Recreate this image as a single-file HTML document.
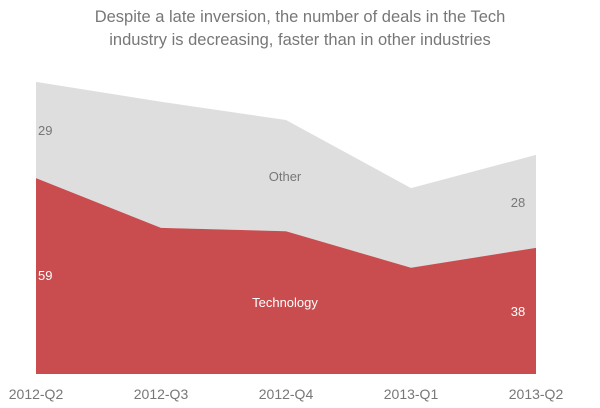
<!DOCTYPE html>
<html><head><meta charset="utf-8"><style>
body{margin:0;background:#fff;}
svg{display:block;font-family:"Liberation Sans",sans-serif;}
</style></head><body>
<svg id="chart" width="600" height="408">
<text x="300" y="22" text-anchor="middle" font-size="16.5" fill="#777">Despite a late inversion, the number of deals in the Tech</text>
<text x="300" y="45" text-anchor="middle" font-size="16.5" fill="#777">industry is decreasing, faster than in other industries</text>
<g id="areas"></g>
<g id="labels"></g>
</svg>
<script>
const categories = ["2012-Q2","2012-Q3","2012-Q4","2013-Q1","2013-Q2"];
const techValues = [59, 44, 43, 32, 38];
const otherValues = [29, 38, 33.5, 24, 28];
const x0 = 36, x1 = 536, yBase = 374, unit = 3.32;
const xPos = i => x0 + i * (x1 - x0) / (categories.length - 1);
const yPos = v => yBase - v * unit;
const NS = "http://www.w3.org/2000/svg";
const areas = document.getElementById("areas");
const labels = document.getElementById("labels");
const totals = techValues.map((t, i) => t + otherValues[i]);
function poly(top, bottom, fill, name) {
  const p = document.createElementNS(NS, "polygon");
  const pts = top.map((v, i) => xPos(i) + "," + yPos(v));
  for (let i = bottom.length - 1; i >= 0; i--) pts.push(xPos(i) + "," + yPos(bottom[i]));
  p.setAttribute("points", pts.join(" "));
  p.setAttribute("fill", fill);
  
  
  areas.appendChild(p);
}
poly(totals, techValues, "#dedede", "other-area");
poly(techValues, techValues.map(() => 0), "#c94c4f", "technology-area");
function txt(x, y, s, fill, size, name, anchor) {
  const t = document.createElementNS(NS, "text");
  t.setAttribute("x", x); t.setAttribute("y", y);
  t.setAttribute("fill", fill); t.setAttribute("font-size", size);
  t.setAttribute("text-anchor", anchor || "middle");
  t.textContent = s;
  
  
  labels.appendChild(t);
}
categories.forEach((c, i) => {
  txt(xPos(i), 399, c, "#777", 14, "x-tick-label");
});
const last = categories.length - 1;
txt(38, 135, String(otherValues[0]), "#777", 13, "other-value-start", "start");
txt(38, 280, String(techValues[0]), "#fff", 13, "tech-value-start", "start");
txt(518, 207, String(otherValues[last]), "#777", 13, "other-value-end", "middle");
txt(518, 316, String(techValues[last]), "#fff", 13, "tech-value-end", "middle");
txt(285, 181, "Other", "#777", 13, "other-series-label");
txt(285, 307, "Technology", "#fff", 13, "technology-series-label");
</script>
</body></html>
